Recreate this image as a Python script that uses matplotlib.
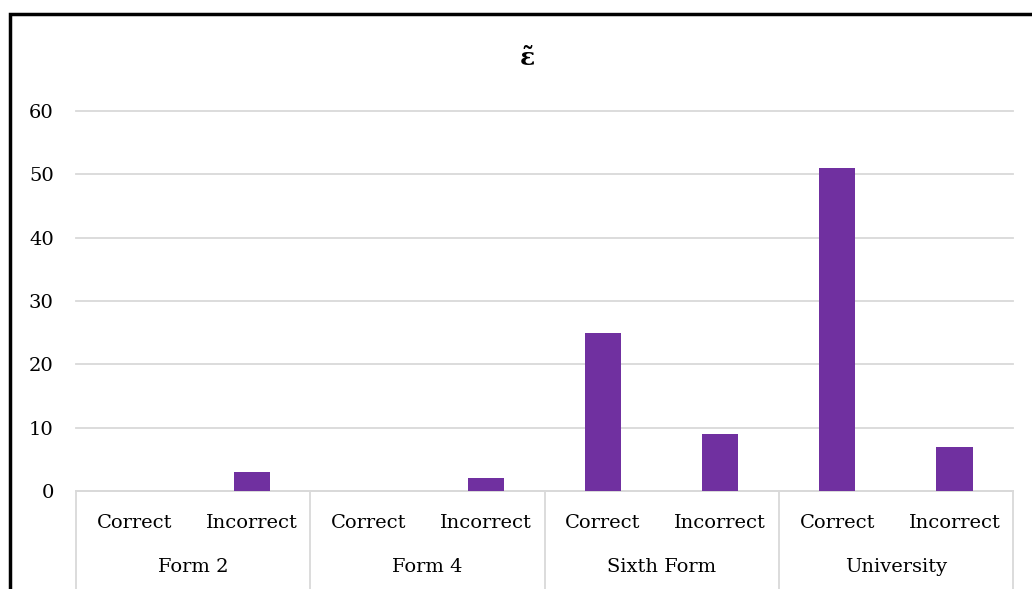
import matplotlib.pyplot as plt
from matplotlib.patches import Rectangle
from matplotlib.lines import Line2D

groups = ["Form 2", "Form 4", "Sixth Form", "University"]
answers = ["Correct", "Incorrect"]
values = [0, 3, 0, 2, 25, 9, 51, 7]
y_ticks = [0, 10, 20, 30, 40, 50, 60]
title = "\u03b5\u0303"

bar_color = "#7030A0"
grid_color = "#D9D9D9"
font = "DejaVu Serif"
fs = 14

W, H = 1032, 589
fig = plt.figure(figsize=(W / 100, H / 100), dpi=100)
left, right, bottom_px, top_px = 76, 1013, 491, 111
ax = fig.add_axes([left / W, 1 - bottom_px / H, (right - left) / W, (bottom_px - top_px) / H])

n = len(values)
x = list(range(n))
ax.bar(x, values, width=0.31, color=bar_color, zorder=3)
ax.set_xlim(-0.5, n - 0.5)
ax.set_ylim(0, 60)
ax.set_yticks(y_ticks)
ax.set_yticklabels([str(v) for v in y_ticks], fontsize=fs, family=font)
ax.tick_params(axis="y", length=0, pad=16)
ax.tick_params(axis="x", length=0, labelbottom=False)
ax.yaxis.grid(True, color=grid_color, linewidth=1.3, zorder=0)
for gl in ax.get_ygridlines():
    gl.set_clip_on(False)
for s in ["left", "right", "top"]:
    ax.spines[s].set_visible(False)
ax.spines["bottom"].set_color(grid_color)
ax.spines["bottom"].set_linewidth(1.3)

# inner category labels
for i in range(n):
    ax.text(i, -32 / 380 * 60, answers[i % 2], ha="center", va="center",
            fontsize=fs, family=font, clip_on=False)
# outer group labels and separators
for g, name in enumerate(groups):
    ax.text(2 * g + 0.5, -76 / 380 * 60, name, ha="center", va="center",
            fontsize=fs, family=font, clip_on=False)
for g in range(len(groups) + 1):
    xs = 2 * g - 0.5
    ax.add_line(Line2D([xs, xs], [0, -100 / 380 * 60], color=grid_color,
                       linewidth=1.3, clip_on=False))

fig.text(527 / W, 1 - 58 / H, title, ha="center", va="center",
         fontsize=18, fontweight="bold", family=font)

# outer frame
fig.add_artist(Rectangle((10 / W, -0.1), 1.2, 1 - 14 / H + 0.1,
                         transform=fig.transFigure, fill=False,
                         edgecolor="black", linewidth=2.5))

fig.savefig("out.png", dpi=100)
